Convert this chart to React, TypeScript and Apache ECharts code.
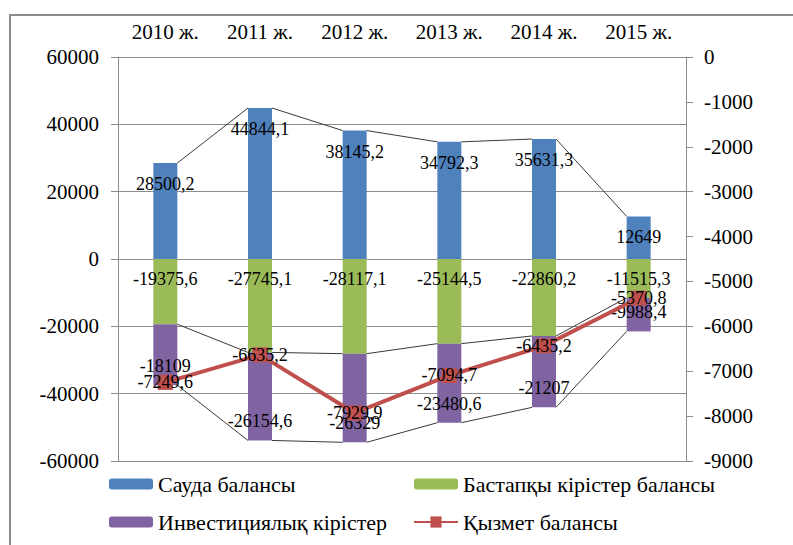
import React, { useEffect, useRef } from "react";
import * as echarts from "echarts";

const categories = ["2010 ж.", "2011 ж.", "2012 ж.", "2013 ж.", "2014 ж.", "2015 ж."];
const tradeBalance = [28500.2, 44844.1, 38145.2, 34792.3, 35631.3, 12649];
const primaryIncomeBalance = [-19375.6, -27745.1, -28117.1, -25144.5, -22860.2, -11515.3];
const investmentIncome = [-18109, -26154.6, -26329, -23480.6, -21207, -9988.4];
const serviceBalance = [-7249.6, -6635.2, -7929.9, -7094.7, -6435.2, -5370.8];

const seriesNames = [
  "Сауда балансы",
  "Бастапқы кірістер балансы",
  "Инвестициялық кірістер",
  "Қызмет балансы",
];

const FONT = "'Liberation Serif', 'Times New Roman', serif";
const fmt = (v: number) => String(v).replace(".", ",");

export default function App() {
  const ref = useRef<HTMLDivElement>(null);
  useEffect(() => {
    if (!ref.current) return;
    const chart = echarts.init(ref.current, null, { renderer: "svg" });

    const bottomLevel = primaryIncomeBalance.map((v, i) => v + investmentIncome[i]);
    const levels = [tradeBalance, primaryIncomeBalance, bottomLevel];
    const connectorData: number[][] = [];
    levels.forEach((lv) => {
      for (let i = 0; i < lv.length - 1; i++) connectorData.push([i, lv[i], lv[i + 1]]);
    });
    const BAR_W = 24;

    const labelBase = { fontFamily: FONT, fontSize: 18, color: "#000" };

    const mkLegend = (name: string, left: number, top: number) => ({
      data: [name],
      left,
      top,
      orient: "horizontal",
      padding: 0,
      itemWidth: 44,
      itemHeight: name === seriesNames[3] ? 14 : 11,
      textStyle: { fontFamily: FONT, fontSize: 22, color: "#000" },
      selectedMode: false,
    });

    chart.setOption({
      animation: false,
      backgroundColor: "#fff",
      textStyle: { fontFamily: FONT },
      graphic: [
        {
          type: "rect",
          shape: { x: 10, y: 15, width: 800, height: 560 },
          style: { fill: "none", stroke: "#8c8c8c", lineWidth: 2 },
          silent: true,
        },
      ],
      legend: [
        mkLegend(seriesNames[0], 109, 473),
        mkLegend(seriesNames[1], 414, 473),
        mkLegend(seriesNames[2], 109, 511),
        mkLegend(seriesNames[3], 413, 511),
      ],
      grid: { left: 118, top: 57, right: 107, bottom: 84 },
      xAxis: {
        type: "category",
        data: categories,
        position: "top",
        axisLine: { show: false },
        axisTick: { show: false },
        axisLabel: { fontFamily: FONT, fontSize: 21, color: "#000", margin: 15 },
      },
      yAxis: [
        {
          type: "value",
          min: -60000,
          max: 60000,
          interval: 20000,
          axisLine: { show: true, lineStyle: { color: "#8c8c8c", width: 1 } },
          axisTick: { show: true, length: 7, lineStyle: { color: "#8c8c8c" } },
          splitLine: { show: true, lineStyle: { color: "#8c8c8c", width: 1 } },
          axisLabel: {
            fontFamily: FONT,
            fontSize: 21,
            color: "#000",
            margin: 19,
            formatter: (v: number) => String(v),
          },
        },
        {
          type: "value",
          min: -9000,
          max: 0,
          interval: 1000,
          position: "right",
          axisLine: { show: true, lineStyle: { color: "#8c8c8c", width: 1 } },
          axisTick: { show: true, length: 7, lineStyle: { color: "#8c8c8c" } },
          splitLine: { show: false },
          axisLabel: {
            fontFamily: FONT,
            fontSize: 21,
            color: "#000",
            margin: 18,
            formatter: (v: number) => String(v),
          },
        },
      ],
      series: [
        {
          type: "custom",
          name: "connectors",
          yAxisIndex: 0,
          z: 1,
          silent: true,
          data: connectorData,
          encode: { x: 0, y: 1 },
          renderItem: (_params: any, api: any) => {
            const i = api.value(0);
            const p1 = api.coord([i, api.value(1)]);
            const p2 = api.coord([i + 1, api.value(2)]);
            return {
              type: "line",
              shape: { x1: p1[0] + BAR_W / 2, y1: p1[1], x2: p2[0] - BAR_W / 2, y2: p2[1] },
              style: { stroke: "#3a3a3a", lineWidth: 1 },
            };
          },
        },
        {
          type: "bar",
          name: seriesNames[0],
          stack: "total",
          barWidth: BAR_W,
          data: tradeBalance,
          itemStyle: { color: "#4F81BD" },
          z: 2,
          label: { show: true, position: "insideTop", distance: 12, formatter: (p: any) => fmt(p.value), ...labelBase },
        },
        {
          type: "bar",
          name: seriesNames[1],
          stack: "total",
          barWidth: BAR_W,
          data: primaryIncomeBalance,
          itemStyle: { color: "#9BBB59" },
          z: 2,
          label: { show: true, position: "insideTop", distance: 11, formatter: (p: any) => fmt(p.value), ...labelBase },
        },
        {
          type: "bar",
          name: seriesNames[2],
          stack: "total",
          barWidth: BAR_W,
          data: investmentIncome,
          itemStyle: { color: "#8064A2" },
          z: 2,
          label: { show: true, position: "insideBottom", distance: 10, formatter: (p: any) => fmt(p.value), ...labelBase },
        },
        {
          type: "line",
          name: seriesNames[3],
          yAxisIndex: 1,
          data: serviceBalance,
          symbol: "rect",
          symbolSize: 15,
          z: 5,
          lineStyle: { color: "#C0504D", width: 4 },
          itemStyle: { color: "#C0504D" },
          label: { show: true, position: "inside", formatter: (p: any) => fmt(p.value), ...labelBase },
        },
      ],
    });
    return () => chart.dispose();
  }, []);
  return (
    <div
      ref={ref}
      style={{ position: "fixed", left: 0, top: 0, width: 793, height: 545, background: "#fff" }}
    />
  );
}
